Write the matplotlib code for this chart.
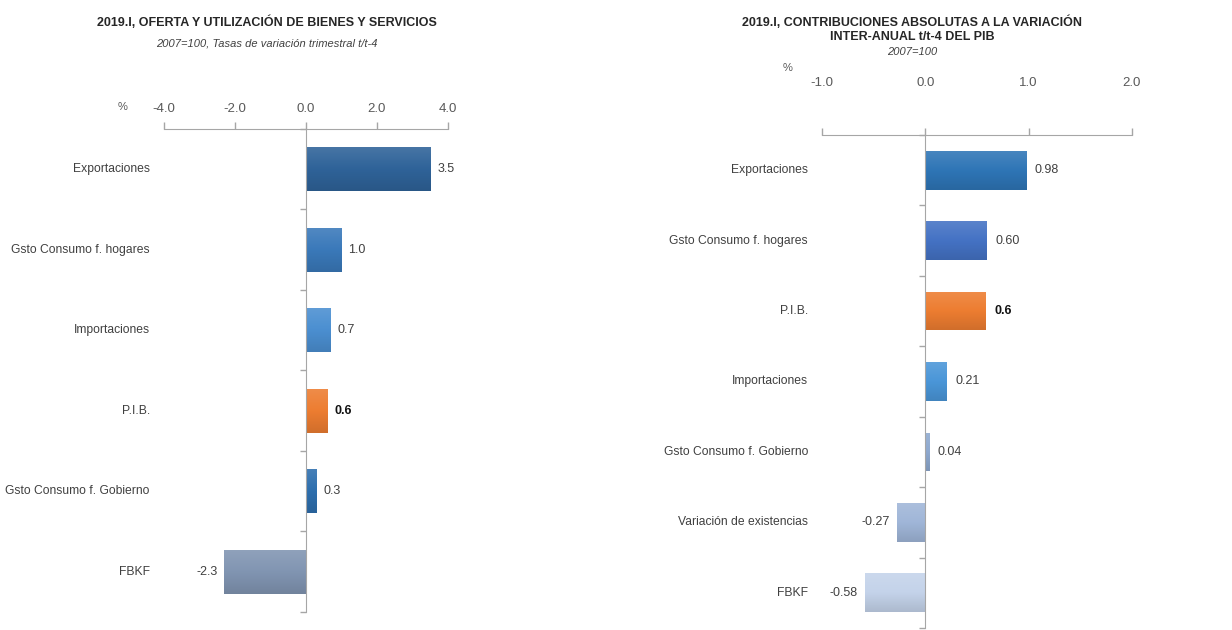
import numpy as np
import matplotlib.pyplot as plt
from matplotlib import font_manager
from matplotlib.colors import to_rgb, LinearSegmentedColormap

# pick a narrow face if it is there
names = {f.name for f in font_manager.fontManager.ttflist}
narrow = 'Liberation Sans Narrow' if 'Liberation Sans Narrow' in names else 'Liberation Sans'
plt.rcParams['font.family'] = [narrow, 'DejaVu Sans']

# left panel: oferta y utilizacion
left_cats = ['Exportaciones', 'Gsto Consumo f. hogares', 'Importaciones', 'P.I.B.',
             'Gsto Consumo f. Gobierno', 'FBKF']
left_vals = [3.5, 1.0, 0.7, 0.6, 0.3, -2.3]
left_labels = ['3.5', '1.0', '0.7', '0.6', '0.3', '-2.3']
left_colors = ['#2f6399', '#3a79ba', '#4b8fd1', '#ed7d31', '#2e6fae', '#8195b2']
left_ticks = [-4, -2, 0, 2, 4]

# right panel: contribuciones al PIB
right_cats = ['Exportaciones', 'Gsto Consumo f. hogares', 'P.I.B.', 'Importaciones',
              'Gsto Consumo f. Gobierno', 'Variación de existencias', 'FBKF']
right_vals = [0.98, 0.60, 0.59, 0.21, 0.04, -0.27, -0.58]
right_labels = ['0.98', '0.60', '0.6', '0.21', '0.04', '-0.27', '-0.58']
right_colors = ['#2e75b6', '#4472c4', '#ed7d31', '#4a96d8', '#8ea9cf', '#a0b6d8', '#c4d3ea']
right_ticks = [-1, 0, 1, 2]

fig = plt.figure(figsize=(12.32, 6.3), dpi=100)
ax1 = fig.add_axes([0.1331, 0.0286, 0.2305, 0.7667])
ax2 = fig.add_axes([0.6672, 0.0032, 0.2516, 0.7825])

TXT = '#404040'
AXC = '#a6a6a6'


def shade(c):
    # light at the top, a bit darker at the bottom
    c = np.array(to_rgb(c))
    top = c + (1 - c) * 0.12
    bot = c * 0.88
    return LinearSegmentedColormap.from_list('g', [top, c, bot])


def draw_panel(ax, cats, vals, labels, colors, ticks, lab_x, pad, tick_pad):
    n = len(cats)
    y = np.arange(n)
    bars = ax.barh(y, vals, height=0.55, color=colors, zorder=3)
    grad = np.linspace(0, 1, 64).reshape(-1, 1)
    for b, c in zip(bars, colors):
        x0, y0 = b.get_x(), b.get_y()
        w, h = b.get_width(), b.get_height()
        im = ax.imshow(grad, cmap=shade(c), aspect='auto', zorder=4,
                       extent=[x0, x0 + w, y0 + h, y0], origin='upper')
        im.set_clip_path(b)
    ax.set_ylim(n - 0.5, -0.5)
    ax.set_xlim(ticks[0], ticks[-1])

    # axis on top, zero line as the category axis
    ax.xaxis.tick_top()
    ax.set_xticks(ticks)
    ax.set_xticklabels([f'{t:.1f}' for t in ticks])
    ax.tick_params(axis='x', direction='out', length=5, color=AXC, width=1,
                   labelsize=9.5, labelcolor='#595959', pad=tick_pad)
    ax.spines['top'].set_color(AXC)
    ax.spines['left'].set_position(('data', 0))
    ax.spines['left'].set_color(AXC)
    ax.spines['left'].set_zorder(5)
    for s in ['right', 'bottom']:
        ax.spines[s].set_visible(False)
    ax.set_yticks(np.arange(n + 1) - 0.5)
    ax.set_yticklabels([])
    ax.tick_params(axis='y', direction='out', length=4, color=AXC, width=1)

    tr = ax.get_yaxis_transform()
    for i, c in enumerate(cats):
        ax.text(lab_x, i, c, transform=tr, ha='right', va='center', fontsize=8.7, color=TXT)

    for i, (v, s) in enumerate(zip(vals, labels)):
        bold = cats[i] == 'P.I.B.'
        off = pad if v >= 0 else -pad
        ax.annotate(s, (v, i), xytext=(off, 0), textcoords='offset pixels',
                    ha='left' if v >= 0 else 'right', va='center', fontsize=9,
                    color='#111111' if bold else TXT,
                    fontweight='bold' if bold else 'normal')


draw_panel(ax1, left_cats, left_vals, left_labels, left_colors, left_ticks, -0.05, 7, 5)
draw_panel(ax2, right_cats, right_vals, right_labels, right_colors, right_ticks, -0.045, 8, 28)

# titles
fig.text(267 / 1232, 1 - 22 / 630, '2019.I, OFERTA Y UTILIZACIÓN DE BIENES Y SERVICIOS',
         ha='center', va='center', fontsize=9, fontweight='bold', color='#262626')
fig.text(267 / 1232, 1 - 44 / 630, '2007=100, Tasas de variación trimestral t/t-4',
         ha='center', va='center', fontsize=8, style='italic', color=TXT)
fig.text(123 / 1232, 1 - 107 / 630, '%', ha='center', va='center', fontsize=8, color='#595959')

fig.text(912 / 1232, 1 - 22 / 630, '2019.I, CONTRIBUCIONES ABSOLUTAS A LA VARIACIÓN',
         ha='center', va='center', fontsize=9, fontweight='bold', color='#262626')
fig.text(912 / 1232, 1 - 37 / 630, 'INTER-ANUAL t/t-4 DEL PIB',
         ha='center', va='center', fontsize=9, fontweight='bold', color='#262626')
fig.text(912 / 1232, 1 - 52 / 630, '2007=100',
         ha='center', va='center', fontsize=8, style='italic', color=TXT)
fig.text(788 / 1232, 1 - 68 / 630, '%', ha='center', va='center', fontsize=8, color='#595959')

fig.savefig('out.png', dpi=100, facecolor='white')
